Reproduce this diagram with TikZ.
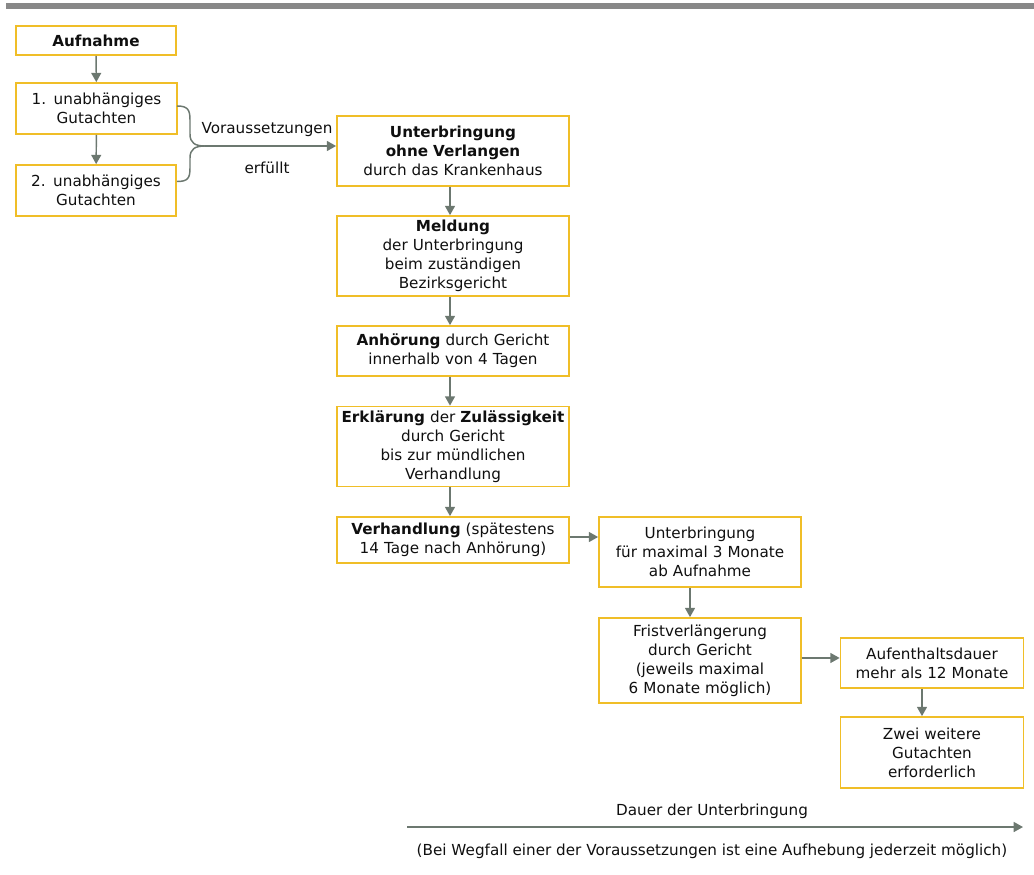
\documentclass[tikz,border=0pt]{standalone}
\usepackage{fontspec}
\setmainfont{DejaVu Sans}
\usetikzlibrary{arrows.meta}
\definecolor{boxgold}{RGB}{240,190,40}
\definecolor{arrowgrey}{RGB}{108,120,112}
\definecolor{bargrey}{RGB}{136,136,136}
\definecolor{textblack}{RGB}{15,15,15}

\begin{document}
\begin{tikzpicture}[x=0.75pt,y=-0.75pt,
        every node/.style={font=\fontsize{11.4}{14.3}\selectfont,text=textblack},
        stepbox/.style={draw=boxgold,line width=1.3pt,align=center,inner sep=0pt},
        flow/.style={draw=arrowgrey,line width=1.1pt,-{Triangle[length=7pt,width=7.5pt]}}]
            \useasboundingbox (0,0) rectangle (1034,874);
            \fill[bargrey] (6,3) rectangle (1034,9);

            % left column
            \node[stepbox,text width=120pt,minimum height=21.75pt] (aufnahme) at (96,40.5) {\textbf{Aufnahme}};
            \node[stepbox,text width=120.75pt,minimum height=38.25pt] (gut1) at (96.5,108.5) {1. unabhängiges\\Gutachten};
            \node[stepbox,text width=120pt,minimum height=38.25pt] (gut2) at (96,190.5) {2. unabhängiges\\Gutachten};

            \draw[flow] (aufnahme) -- (gut1);
            \draw[flow] (gut1) -- (gut2);

            % brace
            \coordinate (bracetop) at (177,106);
            \coordinate (bracebot) at (177,181.5);
            \coordinate (tip) at (205,146);
            \draw[arrowgrey,line width=1.1pt] (bracetop) .. controls (188,106) and (190,110) .. (190,120) -- (190,134)
                .. controls (190,143) and (195,146) .. (tip);
            \draw[arrowgrey,line width=1.1pt] (bracebot) .. controls (188,181.5) and (190,178) .. (190,168) -- (190,158)
                .. controls (190,149) and (195,146) .. (tip);

            \node (voraus) at (267,130) {Voraussetzungen};
            \node (erfuellt) at (267,168) {erfüllt};

            % main column
            \node[stepbox,text width=174pt,minimum height=52.5pt] (unterbr) at (453,151) {\textbf{Unterbringung}\\\textbf{ohne Verlangen}\\durch das Krankenhaus};
            \node[stepbox,text width=174pt,minimum height=60pt] (meldung) at (453,256) {\textbf{Meldung}\\der Unterbringung\\beim zuständigen\\Bezirksgericht};
            \node[stepbox,text width=174pt,minimum height=37.5pt] (anhoerung) at (453,351) {\textbf{Anhörung} durch Gericht\\innerhalb von 4 Tagen};
            \node[stepbox,text width=174pt,minimum height=60pt] (erklaerung) at (453,446.5) {\textbf{Erklärung} der \textbf{Zulässigkeit}\\durch Gericht\\bis zur mündlichen\\Verhandlung};
            \node[stepbox,text width=174pt,minimum height=34.5pt] (verhandlung) at (453,540) {\textbf{Verhandlung} (spätestens\\14 Tage nach Anhörung)};

            \draw[flow] (tip) -- (tip -| unterbr.west);
            \draw[flow] ([xshift=-2.25pt]unterbr.south) -- ([xshift=-2.25pt]meldung.north);
            \draw[flow] ([xshift=-2.25pt]meldung.south) -- ([xshift=-2.25pt]anhoerung.north);
            \draw[flow] ([xshift=-2.25pt]anhoerung.south) -- ([xshift=-2.25pt]erklaerung.north);
            \draw[flow] ([xshift=-2.25pt]erklaerung.south) -- ([xshift=-2.25pt]verhandlung.north);

            % after the hearing
            \node[stepbox,text width=151.5pt,minimum height=52.5pt] (dreimonate) at (700,552) {Unterbringung\\für maximal 3 Monate\\ab Aufnahme};
            \node[stepbox,text width=151.5pt,minimum height=63.75pt] (frist) at (700,660.5) {Fristverlängerung\\durch Gericht\\(jeweils maximal\\6 Monate möglich)};
            \node[stepbox,text width=137.25pt,minimum height=37.5pt] (aufenthalt) at (932,663) {Aufenthaltsdauer\\mehr als 12 Monate};
            \node[stepbox,text width=137.25pt,minimum height=53.25pt] (zwei) at (932,752.5) {Zwei weitere\\Gutachten\\erforderlich};

            \draw[flow] ([yshift=2.25pt]verhandlung.east) -- ([yshift=2.25pt]verhandlung.east -| dreimonate.west);
            \draw[flow] ([xshift=-7.5pt]dreimonate.south) -- ([xshift=-7.5pt]frist.north);
            \draw[flow] ([yshift=1.9pt]frist.east) -- ([yshift=1.9pt]frist.east -| aufenthalt.west);
            \draw[flow] ([xshift=-7.5pt]aufenthalt.south) -- ([xshift=-7.5pt]zwei.north);

            % time axis
            \coordinate (tstart) at (407,827);
            \coordinate (tend) at (1023,827);
            \draw[flow] (tstart) -- (tend);
            \node (dauer) at (712,811) {Dauer der Unterbringung};
            \node (wegfall) at (712,851) {(Bei Wegfall einer der Voraussetzungen ist eine Aufhebung jederzeit möglich)};
\end{tikzpicture}
\end{document}
